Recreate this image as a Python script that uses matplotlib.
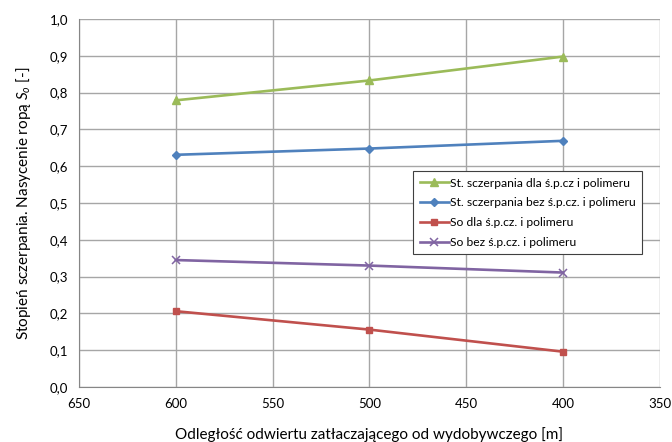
import matplotlib.pyplot as plt
from matplotlib.ticker import FuncFormatter, MultipleLocator

plt.rcParams['font.family'] = ['Lato', 'DejaVu Sans']
plt.rcParams['mathtext.fontset'] = 'custom'
plt.rcParams['mathtext.it'] = 'Lato:italic'
plt.rcParams['mathtext.rm'] = 'Lato'

distance = [600, 500, 400]
st_dla = [0.779, 0.833, 0.898]
st_bez = [0.631, 0.648, 0.669]
so_dla = [0.206, 0.156, 0.096]
so_bez = [0.345, 0.330, 0.311]

labels = ['St. sczerpania dla ś.p.cz i polimeru',
          'St. sczerpania bez ś.p.cz. i polimeru',
          'So dla ś.p.cz. i polimeru',
          'So bez ś.p.cz. i polimeru']

fig = plt.figure(figsize=(6.72, 4.42), dpi=100)
ax = fig.add_axes([0.1176, 0.1244, 0.8644, 0.8326])

ax.plot(distance, st_dla, color='#9bbb59', marker='^', markersize=5.5, lw=1.9, label=labels[0])
ax.plot(distance, st_bez, color='#4f81bd', marker='D', markersize=4.2, lw=1.9, label=labels[1])
ax.plot(distance, so_dla, color='#c0504d', marker='s', markersize=5, lw=1.9, label=labels[2])
ax.plot(distance, so_bez, color='#8064a2', marker='x', markersize=5.5, mew=1.1, lw=1.9, label=labels[3])

ax.set_xlim(650, 350)
ax.set_ylim(0, 1.0)
ax.xaxis.set_major_locator(MultipleLocator(50))
ax.yaxis.set_major_locator(MultipleLocator(0.1))
ax.yaxis.set_major_formatter(FuncFormatter(lambda v, p: f'{v:.1f}'.replace('.', ',')))
ax.grid(True, color='#a6a6a6', lw=1)
ax.set_axisbelow(True)
for s in ['top', 'right']:
    ax.spines[s].set_visible(False)
for s in ['left', 'bottom']:
    ax.spines[s].set_color('#868686')
ax.tick_params(length=0, labelsize=9.5, colors='black', pad=8)

ax.set_xlabel('Odległość odwiertu zatłaczającego od wydobywczego [m]', fontsize=11, labelpad=12)
ax.set_ylabel('Stopień sczerpania. Nasycenie ropą $S_o$ [-]', fontsize=11, labelpad=12)

leg = ax.legend(loc='upper left', bbox_to_anchor=(0.575, 0.587), fontsize=8.7,
                frameon=True, fancybox=False, edgecolor='#404040', framealpha=1,
                handlelength=2.4, handletextpad=0.1, borderpad=0.55, labelspacing=0.72,
                borderaxespad=0)
leg.get_frame().set_linewidth(0.8)

fig.savefig('out.png', dpi=100)
